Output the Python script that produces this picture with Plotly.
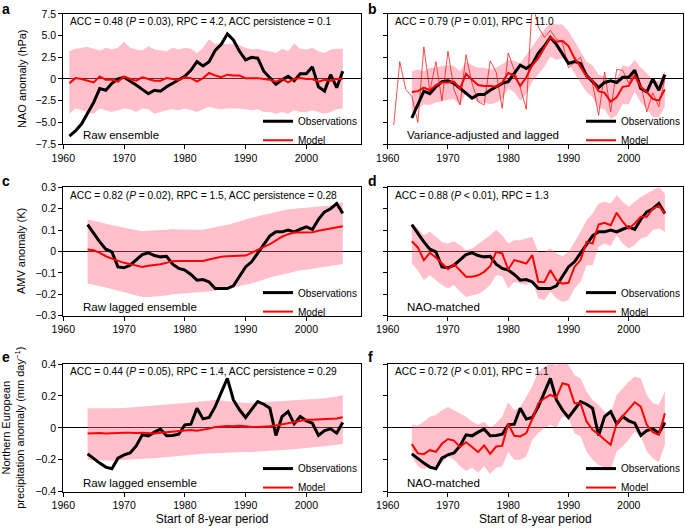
import plotly.graph_objects as go

# start years of the 8-year periods
years_all = list(range(1961, 2007))
years_lag = list(range(1964, 2007))

# ---- a: NAO, raw ensemble (hPa)
nao_obs_raw = [-6.6, -6.0, -5.2, -4.0, -2.7, -1.1, -1.3, -0.5, 0.0, 0.2,
               -0.2, -0.7, -1.2, -1.7, -1.3, -1.4, -0.9, -0.5, -0.1, 0.3,
               1.0, 2.0, 1.5, 2.0, 3.3, 4.0, 5.2, 4.5, 3.2, 2.2,
               2.5, 2.4, 0.9, 0.1, -0.6, -0.1, 0.3, -0.2, 0.6, 0.6,
               1.4, -0.9, -1.4, 0.5, -1.0, 0.9]
nao_model_raw = [-0.5, 0.1, 0.0, -0.2, -0.4, 0.3, -0.1, -0.1, -0.3, 0.3,
                 0.0, -0.2, 0.2, 0.0, -0.2, -0.2, 0.1, 0.0, -0.1, 0.2,
                 0.1, -0.3, 0.1, 0.7, 0.4, 0.2, 0.5, 0.4, 0.4, 0.1,
                 0.1, 0.1, 0.0, -0.1, -0.3, 0.0, -0.4, 0.0, 0.1, 0.0,
                 0.0, -0.3, -0.1, -0.2, 0.0, 0.0]
nao_hi_raw = [3.2, 3.5, 3.6, 3.7, 3.5, 3.3, 3.6, 3.4, 3.6, 4.3,
              3.6, 3.4, 3.3, 3.8, 3.4, 3.3, 3.2, 3.6, 3.4, 3.6,
              3.5, 3.0, 3.6, 4.6, 4.0, 4.1, 4.0, 4.1, 3.9, 3.6,
              3.4, 3.5, 3.3, 3.2, 3.0, 3.5, 3.2, 4.1, 3.5, 3.4,
              3.6, 3.2, 3.0, 3.4, 3.5, 3.5]
nao_lo_raw = [-4.0, -3.4, -3.6, -3.8, -4.0, -3.4, -3.6, -3.8, -3.6, -3.4,
              -3.5, -3.8, -3.4, -3.5, -4.0, -3.8, -3.6, -3.5, -3.6, -3.4,
              -3.6, -3.8, -3.5, -3.2, -3.4, -3.5, -3.4, -3.4, -3.4, -3.5,
              -3.6, -3.5, -3.8, -3.8, -4.0, -3.8, -4.0, -3.6, -3.8, -3.8,
              -3.6, -3.8, -4.0, -3.8, -3.5, -3.4]

# ---- b: NAO, variance-adjusted and lagged
nao_obs_lag = [-4.5, -3.0, -1.4, -1.7, -0.9, -0.3,
               -0.2, -0.5, -1.1, -1.7, -2.2, -1.8, -1.8, -1.3, -0.9, -0.5,
               -0.3, 0.7, 1.6, 1.2, 1.7, 3.0, 3.8, 4.8, 4.0, 2.9,
               1.8, 2.0, 1.8, 0.4, -0.3, -1.0, -0.4, -0.2, -0.4, 0.2,
               0.2, 1.0, -1.1, -1.5, 0.0, -1.3, 0.5]
nao_model_lag = [-1.5, -1.4, -1.0, -1.3, -0.7, -0.4,
                 -0.4, -0.3, -1.1, 0.6, -0.1, -0.7, -0.8, -0.8, -0.9, -0.4,
                 0.7, 0.4, -0.8, 0.2, 1.6, 2.4, 3.6, 4.8, 4.3, 4.4,
                 3.8, 2.4, 1.4, 0.3, -0.2, -1.4, -1.6, -2.6, -2.1, -0.9,
                 -0.8, 0.4, -0.9, -1.5, -2.3, -2.5, -1.2]
nao_hi_lag = [0.9, 1.1, 0.9, 1.3, 1.3, 1.5,
              1.6, 1.5, 0.9, 2.0, 1.6, 1.3, 1.3, 1.1, 1.3, 1.7,
              2.2, 2.1, 1.8, 2.8, 3.8, 4.8, 5.7, 6.5, 6.3, 6.3,
              5.5, 4.4, 3.2, 2.0, 1.6, 0.5, 0.3, -0.5, 0.1, 1.6,
              1.4, 2.2, 1.3, 0.7, -0.2, -0.2, 0.9]
nao_lo_lag = [-3.8, -3.4, -2.9, -3.0, -2.7, -2.6,
              -2.4, -2.3, -3.0, -1.6, -2.1, -2.7, -2.7, -2.9, -2.7, -2.3,
              -1.1, -1.5, -2.5, -1.7, -0.3, 0.5, 1.4, 2.6, 2.2, 2.4,
              1.8, 0.7, -0.5, -1.5, -2.1, -3.4, -3.5, -4.6, -4.2, -2.9,
              -2.9, -1.5, -2.7, -3.4, -4.4, -4.4, -3.2]
nao_model_annual = [-5.3, 2.0, -1.2, -2.0, -5.0, 3.7, -1.4, 2.0, -2.5, 3.2,
                    -1.2, -3.0, 2.8, -0.5, -2.6, -3.0, 2.1, 0.8, -3.4, 3.0,
                    1.0, -1.0, -3.5, 9.0, 6.0, 4.8, 5.6, 4.6, 4.2, 1.3,
                    1.9, 2.5, 0.3, -0.5, -4.2, 0.8, -3.8, 1.1, 1.0, -0.5,
                    0.9, -0.6, -3.8, -1.6, -3.2, 0.1]

# ---- c, d: AMV (K)
amv_obs = [0.126, 0.084, 0.045, 0.011, -0.002, -0.072,
           -0.076, -0.064, -0.037, -0.014, -0.006, -0.019, -0.025, -0.022, -0.059, -0.079,
           -0.087, -0.107, -0.134, -0.131, -0.142, -0.173, -0.173, -0.173, -0.16, -0.118,
           -0.072, -0.048, -0.009, 0.034, 0.073, 0.092, 0.092, 0.1, 0.092, 0.104,
           0.115, 0.103, 0.15, 0.185, 0.2, 0.224, 0.178]
amv_model_raw = [0.009, 0.006, -0.006, -0.022, -0.033, -0.044,
                 -0.053, -0.059, -0.064, -0.072, -0.067, -0.064, -0.059, -0.053, -0.045, -0.044,
                 -0.044, -0.045, -0.047, -0.044, -0.037, -0.03, -0.025, -0.022, -0.022, -0.022,
                 -0.019, -0.006, 0.009, 0.022, 0.034, 0.053, 0.069, 0.081, 0.089, 0.089,
                 0.089, 0.09, 0.097, 0.103, 0.107, 0.112, 0.118]
amv_hi_raw = [0.15, 0.145, 0.138, 0.13, 0.123, 0.117,
              0.112, 0.105, 0.1, 0.095, 0.097, 0.1, 0.1, 0.102, 0.105, 0.103,
              0.103, 0.1, 0.1, 0.102, 0.108, 0.115, 0.12, 0.125, 0.132, 0.14,
              0.15, 0.158, 0.165, 0.172, 0.178, 0.185, 0.192, 0.197, 0.2, 0.202,
              0.205, 0.207, 0.21, 0.212, 0.215, 0.22, 0.232]
amv_lo_raw = [-0.15, -0.155, -0.16, -0.168, -0.175, -0.182,
              -0.19, -0.198, -0.205, -0.213, -0.212, -0.21, -0.208, -0.205, -0.2, -0.198,
              -0.196, -0.195, -0.193, -0.19, -0.187, -0.183, -0.178, -0.172, -0.168, -0.162,
              -0.157, -0.15, -0.14, -0.13, -0.122, -0.115, -0.108, -0.1, -0.093, -0.088,
              -0.085, -0.08, -0.075, -0.07, -0.066, -0.062, -0.058]
amv_model_nao = [0.048, 0.019, -0.04, -0.006, -0.028, -0.056,
                 -0.083, -0.059, -0.087, -0.118, -0.118, -0.111, -0.095, -0.069, -0.002, -0.009,
                 -0.084, -0.04, -0.048, -0.056, -0.017, -0.142, -0.142, -0.087, -0.134, -0.15,
                 -0.146, -0.072, -0.04, 0.045, 0.037, 0.126, 0.134, 0.123, 0.181, 0.139,
                 0.107, 0.131, 0.162, 0.162, 0.2, 0.213, 0.178]
amv_hi_nao = [0.131, 0.107, 0.076, 0.092, 0.069, 0.045,
              0.037, 0.048, 0.03, 0.006, 0.014, 0.034, 0.053, 0.076, 0.1, 0.076,
              0.037, 0.053, 0.053, 0.061, 0.069, -0.002, -0.002, 0.014, -0.009, -0.022,
              -0.002, 0.045, 0.092, 0.146, 0.178, 0.224, 0.232, 0.224, 0.263, 0.232,
              0.209, 0.232, 0.255, 0.271, 0.287, 0.302, 0.271]
amv_lo_nao = [-0.056, -0.087, -0.134, -0.111, -0.134, -0.157,
              -0.173, -0.157, -0.188, -0.212, -0.204, -0.2, -0.181, -0.157, -0.111, -0.115,
              -0.173, -0.142, -0.15, -0.157, -0.134, -0.22, -0.227, -0.188, -0.22, -0.235,
              -0.227, -0.173, -0.142, -0.064, -0.064, 0.022, 0.037, 0.025, 0.076, 0.037,
              0.014, 0.03, 0.061, 0.069, 0.1, 0.107, 0.092]

# ---- e, f: northern European precipitation (mm/day)
pr_obs = [-0.163, -0.194, -0.221, -0.246, -0.256, -0.19,
          -0.169, -0.158, -0.113, -0.044, -0.05, -0.027, -0.008, -0.05, -0.048, -0.04,
          0.019, 0.023, 0.123, 0.056, 0.065, 0.133, 0.217, 0.31, 0.175, 0.113,
          0.065, 0.113, 0.165, 0.148, 0.123, -0.048, 0.071, 0.102, 0.025, 0.071,
          0.044, 0.029, -0.048, -0.017, -0.006, -0.033, 0.033]
pr_model_raw = [-0.035, -0.033, -0.032, -0.036, -0.033, -0.032,
                -0.03, -0.031, -0.033, -0.03, -0.032, -0.035, -0.03, -0.027, -0.022, -0.017,
                -0.015, -0.013, -0.018, -0.013, -0.005, 0.005, 0.01, 0.012, 0.01, 0.013,
                0.01, 0.005, 0.006, 0.007, 0.01, 0.015, 0.022, 0.03, 0.037, 0.045,
                0.05, 0.05, 0.052, 0.053, 0.055, 0.058, 0.066]
pr_hi_raw = [0.122, 0.122, 0.12, 0.119, 0.119, 0.122,
             0.125, 0.128, 0.132, 0.136, 0.14, 0.144, 0.146, 0.148, 0.15, 0.152,
             0.154, 0.158, 0.162, 0.166, 0.17, 0.174, 0.172, 0.168, 0.163, 0.158,
             0.155, 0.156, 0.158, 0.16, 0.162, 0.164, 0.166, 0.168, 0.17, 0.172,
             0.175, 0.178, 0.182, 0.186, 0.19, 0.196, 0.206]
pr_lo_raw = [-0.2, -0.202, -0.204, -0.205, -0.206, -0.203,
             -0.2, -0.198, -0.196, -0.194, -0.192, -0.19, -0.186, -0.182, -0.178, -0.173,
             -0.169, -0.167, -0.165, -0.162, -0.16, -0.158, -0.157, -0.156, -0.154, -0.153,
             -0.152, -0.151, -0.149, -0.147, -0.145, -0.144, -0.141, -0.138, -0.134, -0.13,
             -0.127, -0.123, -0.119, -0.115, -0.11, -0.106, -0.102]
pr_model_nao = [-0.102, -0.16, -0.165, -0.14, -0.15, -0.1,
                -0.07, -0.08, -0.12, -0.09, -0.12, -0.152, -0.11, -0.163, -0.117, -0.113,
                0.025, -0.05, -0.054, -0.033, 0.056, 0.154, 0.185, 0.206, 0.19, 0.279,
                0.269, 0.154, 0.154, 0.04, -0.012, -0.04, -0.075, -0.106, 0.029, 0.071,
                0.113, 0.16, 0.133, 0.019, -0.027, -0.044, 0.092]
pr_hi_nao = [0.02, 0.013, 0.04, 0.07, 0.08, 0.11,
             0.13, 0.11, 0.09, 0.07, 0.04, 0.02, 0.04, 0.0, 0.03, 0.07,
             0.16, 0.11, 0.13, 0.2, 0.26, 0.352, 0.383, 0.404, 0.394, 0.415,
             0.394, 0.331, 0.31, 0.227, 0.175, 0.144, 0.1, 0.092, 0.206, 0.248,
             0.29, 0.321, 0.31, 0.206, 0.154, 0.144, 0.227]
pr_lo_nao = [-0.18, -0.24, -0.26, -0.24, -0.26, -0.22,
             -0.18, -0.2, -0.24, -0.27, -0.25, -0.28, -0.24, -0.29, -0.25, -0.24,
             -0.15, -0.2, -0.2, -0.18, -0.075, -0.033, -0.002, 0.019, 0.002, 0.071,
             0.06, -0.033, -0.054, -0.148, -0.2, -0.231, -0.252, -0.263, -0.148, -0.117,
             -0.075, -0.023, -0.054, -0.148, -0.19, -0.215, -0.106]

# tick labels
year_ticks = [1960, 1970, 1980, 1990, 2000]
nao_ticks = [-7.5, -5, -2.5, 0, 2.5, 5, 7.5]
nao_labels = ["\u22127.5", "\u22125.0", "\u22122.5", "0", "2.5", "5.0", "7.5"]
amv_ticks = [-0.3, -0.2, -0.1, 0, 0.1, 0.2, 0.3]
amv_labels = ["\u22120.3", "\u22120.2", "\u22120.1", "0", "0.1", "0.2", "0.3"]
pr_ticks = [-0.4, -0.2, 0, 0.2, 0.4]
pr_labels = ["\u22120.4", "\u22120.2", "0", "0.2", "0.4"]

stats = [
    "ACC = 0.48 (<i>P</i> = 0.03), RPC = 4.2, ACC persistence = 0.1",
    "ACC = 0.79 (<i>P</i> = 0.01), RPC = 11.0",
    "ACC = 0.82 (<i>P</i> = 0.02), RPC = 1.5, ACC persistence = 0.28",
    "ACC = 0.88 (<i>P</i> &lt; 0.01), RPC = 1.3",
    "ACC = 0.44 (<i>P</i> = 0.05), RPC = 1.4, ACC persistence = 0.29",
    "ACC = 0.72 (<i>P</i> &lt; 0.01), RPC = 1.1",
]
labels = ["Raw ensemble", "Variance-adjusted and lagged", "Raw lagged ensemble",
          "NAO-matched", "Raw lagged ensemble", "NAO-matched"]
letters = ["a", "b", "c", "d", "e", "f"]
ytitles = ["NAO anomaly (hPa)", "AMV anomaly (K)",
           "Northern European<br>precipitation anomaly (mm day<sup>\u22121</sup>)"]

FONT = "Liberation Sans, Arial, Helvetica, sans-serif"
BAND = "rgba(255, 98, 125, 0.4)"   # comes out pink on white, zero line shows through

# panel geometry (paper fractions)
xdom = [[0.0924, 0.527], [0.566, 0.997]]
ydom = [[0.7283, 0.9736], [0.4043, 0.6466], [0.0723, 0.3132]]
yranges = [[-7.5, 7.5], [-0.3, 0.3], [-0.4, 0.4]]
yticks = [(nao_ticks, nao_labels), (amv_ticks, amv_labels), (pr_ticks, pr_labels)]

fig = go.Figure()


def add_panel(n, x, obs, model, lo, hi):
    ax = "" if n == 1 else str(n)
    leg = "legend" + ax
    fig.add_trace(go.Scatter(x=x, y=hi, mode="lines", line=dict(width=0),
                             showlegend=False, hoverinfo="skip", legend=leg,
                             xaxis="x" + ax, yaxis="y" + ax))
    fig.add_trace(go.Scatter(x=x, y=lo, mode="lines", line=dict(width=0),
                             fill="tonexty", fillcolor=BAND, legend=leg,
                             showlegend=False, hoverinfo="skip",
                             xaxis="x" + ax, yaxis="y" + ax))
    if n == 2:
        # unsmoothed annual values
        fig.add_trace(go.Scatter(x=years_all, y=nao_model_annual, mode="lines",
                                 line=dict(color="#ff0000", width=0.7),
                                 showlegend=False, legend=leg, xaxis="x2", yaxis="y2"))
    fig.add_trace(go.Scatter(x=x, y=obs, mode="lines", name="Observations",
                             line=dict(color="black", width=3),
                             legend=leg, xaxis="x" + ax, yaxis="y" + ax))
    fig.add_trace(go.Scatter(x=x, y=model, mode="lines", name="Model",
                             line=dict(color="#ff0000", width=2),
                             legend=leg, xaxis="x" + ax, yaxis="y" + ax))


add_panel(1, years_all, nao_obs_raw, nao_model_raw, nao_lo_raw, nao_hi_raw)
add_panel(2, years_lag, nao_obs_lag, nao_model_lag, nao_lo_lag, nao_hi_lag)
add_panel(3, years_lag, amv_obs, amv_model_raw, amv_lo_raw, amv_hi_raw)
add_panel(4, years_lag, amv_obs, amv_model_nao, amv_lo_nao, amv_hi_nao)
add_panel(5, years_lag, pr_obs, pr_model_raw, pr_lo_raw, pr_hi_raw)
add_panel(6, years_lag, pr_obs, pr_model_nao, pr_lo_nao, pr_hi_nao)

legend_y = [0.7535, 0.4300, 0.0980]
legend_x = [0.3766, 0.8482]
letter_y = [0.983, 0.658, 0.326]
ytitle_x = [0.032, 0.030, 0.019]

layout = dict(
    template="none",
    width=685, height=530,
    margin=dict(l=0, r=0, t=0, b=0, autoexpand=False),
    paper_bgcolor="white", plot_bgcolor="white",
    font=dict(family=FONT, size=10.5, color="black"),
    showlegend=True,
    annotations=[],
)

for n in range(1, 7):
    ax = "" if n == 1 else str(n)
    row, col = (n - 1) // 2, (n - 1) % 2
    tv, tt = yticks[row]
    xa = dict(
        domain=xdom[col], range=[1960, 2009], anchor="y" + ax, automargin=False,
        tickvals=year_ticks, ticks="outside", ticklen=4, tickwidth=1,
        tickcolor="black", showline=True, linecolor="black", linewidth=1,
        mirror=True, showgrid=False, zeroline=False,
        tickfont=dict(size=10.5),
    )
    if row == 2:
        xa["title"] = dict(text="Start of 8-year period", font=dict(size=12), standoff=4)
    ya = dict(
        domain=ydom[row], range=yranges[row], anchor="x" + ax, automargin=False,
        tickvals=tv, ticktext=tt, ticks="outside", ticklen=4, tickwidth=1,
        tickcolor="black", showline=True, linecolor="black", linewidth=1,
        mirror=True, showgrid=False, showticklabels=(col == 0),
        zeroline=True, zerolinecolor="black", zerolinewidth=1,
        tickfont=dict(size=10.5),
    )
    layout["xaxis" + ax] = xa
    layout["yaxis" + ax] = ya
    layout["legend" + ax] = dict(
        x=legend_x[col], xanchor="left", y=legend_y[row], yanchor="middle",
        bgcolor="rgba(0,0,0,0)", font=dict(size=10), tracegroupgap=0,
        traceorder="normal",
    )
    layout["annotations"] += [
        dict(text=stats[n - 1], xref="x" + ax + " domain", yref="y" + ax + " domain",
             x=0.017, y=0.94, xanchor="left", yanchor="middle", showarrow=False,
             font=dict(size=10.2)),
        dict(text=labels[n - 1], xref="x" + ax + " domain", yref="y" + ax + " domain",
             x=0.06, y=0.07, xanchor="left", yanchor="middle", showarrow=False,
             font=dict(size=11.5)),
        dict(text="<b>" + letters[n - 1] + "</b>", xref="paper", yref="paper",
             x=0.0 if col == 0 else 0.535, y=letter_y[row], xanchor="left",
             yanchor="middle", showarrow=False, font=dict(size=14)),
    ]
    if col == 0:
        layout["annotations"].append(
            dict(text=ytitles[row], xref="paper", yref="y" + ax + " domain",
                 x=ytitle_x[row], y=0.5, xanchor="center", yanchor="middle",
                 textangle=-90, showarrow=False, font=dict(size=11)))

fig.update_layout(layout)
# page body has an 8px default margin; drop it so the figure sits at the window corner
fig.write_html("out.html", config={"displayModeBar": False},
               post_script="document.body.style.margin = '0';")
